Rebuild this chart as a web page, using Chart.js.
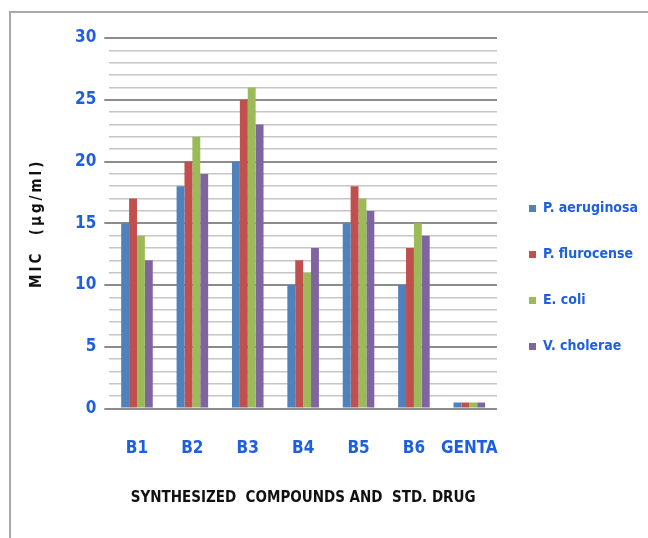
<!DOCTYPE html>
<html>
<head>
<meta charset="utf-8">
<script src="https://cdn.jsdelivr.net/npm/chart.js@4/dist/chart.umd.min.js"></script>
<style>
  html, body { margin: 0; padding: 0; background: #ffffff; }
  #wrap { position: relative; width: 648px; height: 538px; overflow: hidden; }
  #frame { position: absolute; left: 9px; top: 11px; width: 700px; height: 600px;
           border-left: 2px solid #a8a8a8; border-top: 2px solid #a8a8a8; }
  canvas { position: absolute; left: 0; top: 0; }
</style>
</head>
<body>
<div id="wrap">
  <div id="frame"></div>
  <canvas id="c" width="648" height="538"></canvas>
</div>
<script>
const categories = ['B1', 'B2', 'B3', 'B4', 'B5', 'B6', 'GENTA'];
const seriesNames = ['P. aeruginosa', 'P. flurocense', 'E. coli', 'V. cholerae'];
const pAeruginosa = [15, 18, 20, 10, 15, 10, 0.5];
const pFlurocense = [17, 20, 25, 12, 18, 13, 0.5];
const eColi       = [14, 22, 26, 11, 17, 15, 0.5];
const vCholerae   = [12, 19, 23, 13, 16, 14, 0.5];
const yTickLabels = [0, 5, 10, 15, 20, 25, 30];
const xTitle = 'SYNTHESIZED  COMPOUNDS AND  STD. DRUG';
const yTitle = 'MIC  (µg/ml)';

const seriesValues = [pAeruginosa, pFlurocense, eColi, vCholerae];
const seriesColors = ['#4f81bd', '#c0504d', '#9bbb59', '#8064a2'];
const blue = '#1d5fe0';
const narrow = '"Liberation Sans Narrow", "DejaVu Sans Condensed", "Arial Narrow", sans-serif';

const spacedTitles = {
  id: 'spacedTitles',
  beforeDraw(chart) {
    [['x', '0px'], ['y', '3px']].forEach(([id, sp]) => {
      const s = chart.scales[id];
      if (!s || s._spaced) return;
      const orig = s.drawTitle;
      s.drawTitle = function () {
        const c = this.ctx;
        c.save();
        c.letterSpacing = sp;
        orig.apply(this, arguments);
        c.restore();
      };
      s._spaced = true;
    });
  }
};

new Chart(document.getElementById('c'), {
  type: 'bar',
  data: {
    labels: categories,
    datasets: seriesNames.map((name, i) => ({
      label: name,
      data: seriesValues[i],
      backgroundColor: seriesColors[i],
      borderWidth: 0,
      categoryPercentage: 0.57,
      barPercentage: 1.0
    }))
  },
  options: {
    responsive: false,
    animation: false,
    devicePixelRatio: 1,
    layout: { padding: { left: 28, top: 38, right: 0, bottom: 21 } },
    plugins: {
      legend: {
        position: 'right',
        align: 'center',
        labels: {
          boxWidth: 7,
          boxHeight: 7,
          padding: 32,
          color: blue,
          font: { family: narrow, size: 14, weight: 'bold' }
        }
      },
      tooltip: { enabled: false }
    },
    scales: {
      x: {
        grid: { display: false, drawTicks: false },
        border: { display: false },
        ticks: {
          color: blue,
          padding: 30,
          maxRotation: 0,
          minRotation: 0,
          autoSkip: false,
          font: { family: narrow, size: 17, weight: 'bold' }
        },
        title: {
          display: true,
          text: xTitle,
          color: '#111111',
          padding: { top: 0, bottom: 10 },
          font: { family: narrow, size: 15, weight: 'bold' }
        }
      },
      y: {
        min: 0,
        max: 30,
        border: { display: false },
        grid: {
          color: (ctx) => (ctx.tick && yTickLabels.includes(ctx.tick.value)) ? '#8c8c8c' : '#c6c6c6',
          lineWidth: (ctx) => (ctx.tick && yTickLabels.includes(ctx.tick.value)) ? 2 : 1.5,
          tickColor: (ctx) => (ctx.tick && yTickLabels.includes(ctx.tick.value)) ? '#8c8c8c' : 'rgba(0,0,0,0)',
          tickLength: 5,
          drawTicks: true
        },
        ticks: {
          stepSize: 1,
          autoSkip: false,
          padding: 8,
          color: blue,
          font: { family: narrow, size: 17, weight: 'bold' },
          callback: (v) => yTickLabels.includes(v) ? String(v) : ''
        },
        title: {
          display: true,
          text: yTitle,
          color: '#111111',
          padding: { top: 0, bottom: 21 },
          font: { family: narrow, size: 15, weight: 'bold' }
        }
      }
    }
  },
  plugins: [spacedTitles]
});
</script>
</body>
</html>
